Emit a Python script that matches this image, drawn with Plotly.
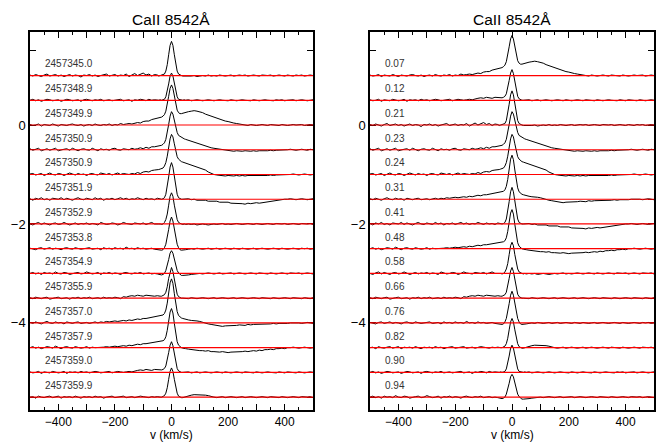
import plotly.graph_objects as go

# velocity sampling (km/s)
v_blue = list(range(-500, -49, 10))
v_core = list(range(-45, 46, 5))
v_red = list(range(50, 501, 10))
velocity = v_blue + v_core + v_red

# relative flux above continuum, in percent
flux_2457345_0 = [1,-1,2,0,-2,1,3,-1,0,2, -1,1,-2,0,2,-1,1,0,-3,1, 0,2,-1,1,-2,0,1,3,-1,0, 2,-1,1,0,3,-2,1,4,0,2, 5,1,3,-1,2,1,
                  -1,0,1,1,3,9,22,42,61,69,61,42,22,9,3,1,0,-1,-1,
                  -1,-2,-1,0,-2,-1,0,-1,1,-1, 0,-1,1,0,-1,0,1,-1,0,1, 0,1,-1,0,1,0,-1,1,0,0, 1,-1,0,1,0,-1,1,0,-1,1, 0,1,-1,0,1,0]
flux_2457348_9 = [0,2,-1,1,-2,0,2,1,-1,0, 1,-2,0,2,1,-1,0,1,-2,1, 2,0,-1,1,0,2,-1,0,1,-1, 0,1,2,-1,0,1,-2,1,0,2, 1,-1,2,0,1,0,
                  0,1,0,1,2,7,18,33,49,55,49,33,18,7,2,1,0,0,1,
                  0,1,-1,0,1,0,-1,0,1,0, -1,0,1,0,0,-1,1,0,-1,0, 1,0,0,-1,1,0,-1,0,1,0, 0,-1,1,0,1,-1,0,0,1,-1, 0,1,0,-1,0,1]
flux_2457349_9 = [1,-1,0,2,-2,1,0,-1,2,0, -2,1,0,-1,1,2,0,-1,1,-2, 0,1,-1,2,0,-1,1,0,2,-1, 1,0,3,1,2, 3,2,4,5,4,7,8,8,11,12,13,
                  14,15,16,18,21,28,40,58,74,81,74,58,41,30,25,23,23,24,25,
                  26,27,28,29,28,27,25,22,20,17, 15,13,11,9,8,7,5,4,3,2, 1,0,-1,1,0,-1,0,1,0,-1, 1,0,0,-1,1,0,-1,0,1,0, 0,1,-1,0,1,0]
flux_2457350_9a = [2,-1,1,3,-2,0,2,-1,1,3, -2,0,1,2,-1,3,0,-2,1,2, 0,-1,3,1,-2,2,0,1,-1,2, 3,0,-1,2,1, 0,3,1,2,4,2,5,3,6,6,7,
                   7,8,9,11,14,21,33,51,68,77,72,59,44,35,29,27,25,24,22,
                   21,19,17,15,13,11,9,7,5,4, 3,2,1,0,-1,-2,-2,-3,-2,-3, -3,-2,-3,-3,-2,-3,-2,-2,-3,-2, -1,-2,-1,-1,0,-1,0,1,0,-1, 0,1,0,-1,1,0]
flux_2457350_9b = [1,2,-1,0,2,-2,1,3,0,-1, 2,1,-2,0,3,1,-1,2,0,1, -2,1,2,0,-1,3,1,0,2,-1, 1,3,0,2,1, 0,2,1,4,2,5,6,5,8,9,9,
                   10,11,12,13,17,24,37,55,72,81,76,62,47,36,31,28,26,25,24,
                   23,21,20,18,16,14,12,9,5,2, 0,-1,-2,-2,-3,-2,-3,-3,-2,-3, -2,-3,-2,-2,-3,-2,-2,-3,-2,-2, -1,-2,-1,-1,0,-1,-1,0,1,0, -1,0,1,0,-1,0]
flux_2457351_9 = [1,-2,2,0,3,-1,1,-2,2,1, 0,3,-1,2,0,-2,1,3,0,-1, 2,1,-1,3,0,2,-2,1,0,2, -1,1,3,0,2,-1,1,0,3,1, -1,2,0,1,-1,2,
                  1,0,0,1,3,10,24,45,65,74,65,45,24,10,3,1,0,0,0,
                  0,1,-1,0,-2,-2,-3,-2,-4,-4, -5,-4,-6,-6,-7,-6,-8,-8,-9,-8, -9,-10,-8,-9,-8,-7,-8,-7,-6,-6, -5,-4,-3,-2,-1,0,0,1,0,-1, 0,1,0,-1,0,1]
flux_2457352_9 = [0,-2,1,3,-1,2,0,-2,1,2, -1,0,3,1,-2,0,2,-1,1,0, 2,-1,1,0,-2,3,1,-1,0,2, 1,-2,0,3,1,0,-1,2,1,0, 2,-1,1,3,0,1,
                  0,0,-1,0,3,9,20,38,56,63,56,38,20,9,3,1,0,-1,0,
                  -1,0,-1,0,-2,-1,0,-1,-2,-1, 0,-1,0,1,-1,0,-1,0,1,0, -1,0,1,0,-1,1,0,-1,0,1, 0,-1,1,0,0,1,-1,0,1,0, -1,1,0,0,1,-1]
flux_2457353_8 = [1,0,-2,1,2,-1,0,2,-1,1, 0,-2,1,2,0,-1,2,1,-1,0, 1,2,-1,0,1,-2,2,0,1,-1, 2,0,1,-1,3,0,1,-1,2,0, 1,-1,0,1,-1,-2,
                  -2,-3,-3,-2,2,9,21,39,56,64,56,39,21,9,2,-2,-3,-3,-2,
                  -2,-1,0,-1,1,0,-1,0,1,-1, 0,1,-1,0,1,0,-1,1,0,-1, 1,0,-1,0,1,-1,0,1,0,-1, 0,1,0,-1,1,0,-1,0,1,0, -1,1,0,1,-1,0]
flux_2457354_9 = [0,2,-1,1,-2,2,0,1,-1,3, 0,-1,2,1,-2,0,1,2,-1,0, 3,1,-1,0,2,-2,1,0,2,-1, 1,0,-2,1,2,0,-1,1,0,2, -1,0,1,-1,0,-1,
                  -2,-2,-3,-2,0,6,15,28,41,46,41,28,15,6,1,-2,-4,-4,-4,
                  -4,-3,-2,-1,-1,0,-1,0,1,0, -1,0,1,-1,0,0,1,-1,0,1, 0,-1,0,1,0,-1,1,0,0,-1, 1,0,-1,0,1,0,-1,1,0,0, 1,-1,0,1,0,-1]
flux_2457355_9 = [1,-1,2,0,-1,1,2,-2,0,1, 2,-1,0,1,-2,1,0,2,-1,1, 0,2,-1,0,1,-1,2,0,1,0, 2,1,-1,3,2,4,5,4,6,5, 4,6,5,5,4,5,
                  4,4,4,5,7,12,23,40,55,62,54,37,19,8,3,1,0,0,0,
                  0,-1,1,0,-1,0,1,0,-1,0, 1,-1,0,1,0,-1,0,1,-1,0, 1,0,-1,0,1,0,-1,1,0,0, -1,1,0,-1,0,1,0,-1,1,0, 0,-1,1,0,-1,1]
flux_2457357_0 = [1,-1,2,0,-2,1,3,0,-1,2, 0,1,-2,2,0,-1,1,2,-1,0,
                  1,-1,0,2,0,2,1,3,2,3, 4,3,4,5,4,6,5,6,8,7, 9,9,10,12,12,13,
                  14,14,15,16,19,26,40,61,81,89,80,59,37,23,15,12,10,9,8,
                  7,6,5,5,4,3,1,0,-2,-3, -4,-5,-6,-7,-6,-6,-5,-6,-5,-4, -4,-5,-3,-4,-3,-3,-2,-3,-2,-2, -2,-1,-2,-1,-1,-2,-1,0,0,1, 0,-1,0,1,0,-1]
flux_2457357_9 = [0,2,-1,1,-2,0,2,1,-1,3, 0,-2,1,2,0,-1,2,1,-1,0, 2,-1,1,0,
                  0,1,1,2,1,2,3,2,3,4, 3,5,4,6,7,6,8,8,9,10, 11,12,
                  12,13,13,14,16,22,35,54,72,79,70,49,27,12,5,2,0,-1,-2,
                  -2,-3,-4,-4,-5,-6,-6,-7,-6,-8, -8,-9,-9,-8,-9,-10,-9,-9,-8,-9, -8,-7,-8,-7,-6,-7,-5,-6,-4,-4, -3,-4,-2,-2,-1,-2,0,0,1,0, -1,0,1,0,-1,0]
flux_2457359_0 = [1,-1,0,2,-2,1,0,-1,2,1, -1,0,2,-2,1,0,1,-1,2,0, 1,-1,0,2,1,-1,0,1,2,-1, 0,2,1,0,1,2,1,3,4,5, 4,6,5,4,6,5,
                  5,5,5,6,8,13,24,40,55,62,54,37,20,8,3,1,0,0,0,
                  0,1,-1,0,1,-1,0,1,0,-1, 0,1,0,-1,1,0,-1,0,1,0, -1,1,0,0,-1,1,0,-1,0,1, 0,0,-1,1,0,-1,1,0,0,-1, 1,0,-1,0,1,0]
flux_2457359_9 = [0,1,-2,2,0,-1,1,2,-1,0, 2,-2,1,0,1,-1,2,0,-2,1, 0,1,-1,2,0,1,-2,0,1,2, -1,0,1,2,-1,0,1,-1,0,2, 1,0,-1,1,0,1,
                  0,0,0,1,3,8,19,36,52,59,52,36,19,8,2,0,-1,-1,0,
                  1,3,4,5,5,5,5,4,3,1, 0,-1,0,1,-1,0,1,0,-1,0, 1,-1,0,1,0,-1,0,1,0,-1, 1,0,0,-1,1,0,-1,0,1,0, -1,1,0,0,1,-1]

spectra = [flux_2457345_0, flux_2457348_9, flux_2457349_9, flux_2457350_9a, flux_2457350_9b,
           flux_2457351_9, flux_2457352_9, flux_2457353_8, flux_2457354_9, flux_2457355_9,
           flux_2457357_0, flux_2457357_9, flux_2457359_0, flux_2457359_9]
jd_labels = ["2457345.0", "2457348.9", "2457349.9", "2457350.9", "2457350.9", "2457351.9",
             "2457352.9", "2457353.8", "2457354.9", "2457355.9", "2457357.0", "2457357.9",
             "2457359.0", "2457359.9"]
phase_labels = ["0.07", "0.12", "0.21", "0.23", "0.24", "0.31", "0.41", "0.48", "0.58",
                "0.66", "0.76", "0.82", "0.90", "0.94"]
phase_order = [2, 12, 0, 3, 4, 10, 5, 11, 6, 9, 7, 13, 1, 8]

title_text = "CaII 8542Å"
xlabel = "v (km/s)"

FONT = "Liberation Sans, Arial, Helvetica, sans-serif"
top_offset = 1.0
step = 0.5

fig = go.Figure()
shapes = []
annotations = []

panels = [
    ("x", "y", list(range(14)), jd_labels),
    ("x2", "y2", phase_order, phase_labels),
]
for xa, ya, order, labels in panels:
    for k, idx in enumerate(order):
        off = top_offset - step * k
        yy = [off + f / 100.0 for f in spectra[idx]]
        fig.add_trace(go.Scatter(x=velocity, y=yy, mode="lines", xaxis=xa, yaxis=ya,
                                 line=dict(color="black", width=1.0), showlegend=False,
                                 hoverinfo="skip"))
        shapes.append(dict(type="line", xref=f"{xa} domain", yref=ya, x0=0, x1=1,
                           y0=off, y1=off, line=dict(color="#ff0000", width=1.2), layer="above"))
        annotations.append(dict(x=-455, y=off + 0.235, xref=xa, yref=ya, text=labels[k],
                                showarrow=False, xanchor="left", yanchor="middle",
                                font=dict(size=10, color="#333333", family=FONT)))

dom_l = [30 / 663, 313 / 663]
dom_r = [370 / 663, 654 / 663]
ydom = [1 - 410 / 443, 1 - 32 / 443]

for dom in (dom_l, dom_r):
    cx = (dom[0] + dom[1]) / 2
    annotations.append(dict(x=cx, y=1 - 20 / 443, xref="paper", yref="paper", text=title_text,
                            showarrow=False, xanchor="center", yanchor="middle",
                            font=dict(size=15.5, color="black", family=FONT)))
    annotations.append(dict(x=cx, y=0, xref="paper", yref="paper", text=xlabel,
                            showarrow=False, xanchor="center", yanchor="bottom",
                            borderpad=0,
                            font=dict(size=12, color="black", family=FONT)))

xt_vals = list(range(-400, 401, 100))
xt_text = [("−" + str(-t) if t < 0 else str(t)) if t % 200 == 0 else "" for t in xt_vals]
yt_vals = [1.5 - 0.5 * i for i in range(15)]
yt_text = [{0.0: "0", -2.0: "−2", -4.0: "−4"}.get(t, "") for t in yt_vals]

xaxis_common = dict(range=[-500, 500], tickmode="array", tickvals=xt_vals, ticktext=xt_text,
                    ticks="inside", ticklen=6, tickwidth=1, tickcolor="black",
                    minor=dict(dtick=50, ticks="inside", ticklen=3, tickcolor="black"),
                    showline=True, linewidth=1.5, linecolor="black", mirror="ticks",
                    showgrid=False, zeroline=False,
                    tickfont=dict(size=12, color="black", family=FONT))
yaxis_common = dict(range=[-5.76, 1.88], tickmode="array", tickvals=yt_vals, ticktext=yt_text,
                    ticks="inside", ticklen=6, tickwidth=1, tickcolor="black",
                    showline=True, linewidth=1.5, linecolor="black", mirror="ticks",
                    showgrid=False, zeroline=False,
                    tickfont=dict(size=13, color="black", family=FONT))

fig.update_layout(
    width=663, height=443, margin=dict(l=0, r=0, t=0, b=0),
    paper_bgcolor="white", plot_bgcolor="white",
    xaxis=dict(domain=dom_l, anchor="y", **xaxis_common),
    yaxis=dict(domain=ydom, anchor="x", **yaxis_common),
    xaxis2=dict(domain=dom_r, anchor="y2", **xaxis_common),
    yaxis2=dict(domain=ydom, anchor="x2", **yaxis_common),
    shapes=shapes, annotations=annotations,
    font=dict(family=FONT),
)

fig.write_html("out.html")
